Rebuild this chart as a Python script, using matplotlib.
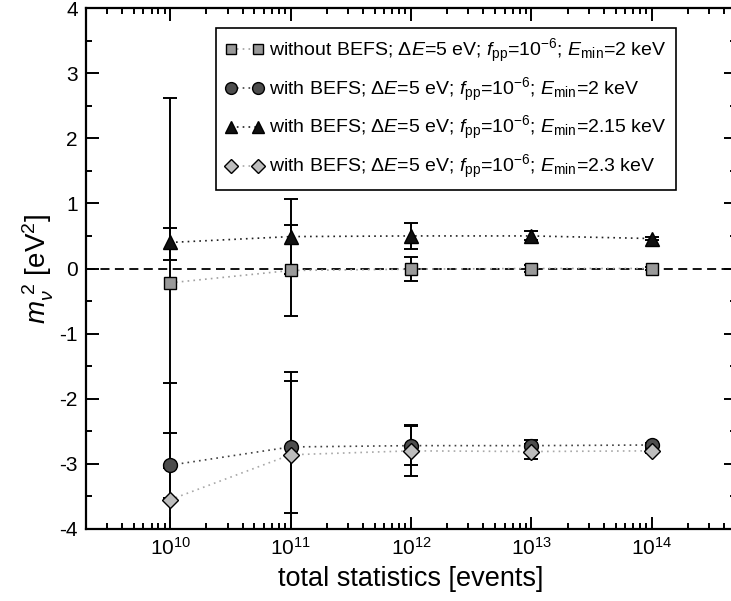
import matplotlib
matplotlib.use("Agg")
import matplotlib.pyplot as plt
from matplotlib.ticker import LogLocator, MultipleLocator, NullFormatter, LogFormatterMathtext

plt.rcParams['font.family'] = ['Liberation Sans', 'DejaVu Sans']
plt.rcParams['mathtext.fontset'] = 'custom'
plt.rcParams['mathtext.rm'] = 'Liberation Sans'
plt.rcParams['mathtext.it'] = 'Liberation Sans:italic'
plt.rcParams['mathtext.sf'] = 'Liberation Sans'
plt.rcParams['axes.unicode_minus'] = False

# data
events = [1e10, 1e11, 1e12, 1e13, 1e14]

sq_val = [-0.22, -0.03, -0.01, 0.0, 0.0]
sq_err = [2.84, 0.70, 0.18, 0.05, 0.03]

circ_val = [-3.02, -2.74, -2.72, -2.72, -2.71]
circ_err = [0.50, 1.01, 0.30, 0.09, 0.03]

tri_val = [0.40, 0.49, 0.50, 0.50, 0.46]
tri_lo = [0.27, 0.58, 0.20, 0.07, 0.03]
tri_hi = [0.22, 0.58, 0.20, 0.07, 0.03]

dia_val = [-3.55, -2.86, -2.80, -2.81, -2.80]
dia_err = [1.79, 1.27, 0.39, 0.12, 0.03]

labels = [
    r"without BEFS; $\Delta E$=5 eV; $f_{\rm pp}$=10$^{-6}$; $E_{\rm min}$=2 keV",
    r"with BEFS; $\Delta E$=5 eV; $f_{\rm pp}$=10$^{-6}$; $E_{\rm min}$=2 keV",
    r"with BEFS; $\Delta E$=5 eV; $f_{\rm pp}$=10$^{-6}$; $E_{\rm min}$=2.15 keV",
    r"with BEFS; $\Delta E$=5 eV; $f_{\rm pp}$=10$^{-6}$; $E_{\rm min}$=2.3 keV",
]

fig = plt.figure(figsize=(7.31, 6.01), dpi=100)
ax = fig.add_axes([86 / 731, 72 / 601, 650 / 731, 521 / 601])

ax.axhline(0, color='black', lw=1.3, ls=(0, (5, 3)), zorder=1)

eb = dict(ecolor='black', elinewidth=1.4, capsize=5, capthick=1.4, zorder=3)

series = [
    (sq_val, sq_err, 's', '#999999', '#a0a0a0', 9),
    (circ_val, circ_err, 'o', '#4d4d4d', '#404040', 10),
    (tri_val, [tri_lo, tri_hi], '^', '#111111', '#202020', 10),
    (dia_val, dia_err, 'D', '#bdbdbd', '#a8a8a8', 8.5),
]
handles = []
for (vals, err, mk, fc, lc, ms), lab in zip(series, labels):
    ax.errorbar(events, vals, yerr=err, fmt='none', **eb)
    h, = ax.plot(events, vals, ls=(0, (1, 2.5)), color=lc, lw=1.2,
                 marker=mk, ms=ms, mfc=fc, mec='black', mew=1.0, zorder=4,
                 label=lab)
    handles.append(h)

ax.set_xscale('log')
ax.set_xlim(2e9, 5e14)
ax.set_ylim(-4, 4)

ax.xaxis.set_major_locator(LogLocator(base=10, numticks=20))
ax.xaxis.set_minor_locator(LogLocator(base=10, subs=range(2, 10), numticks=50))
ax.xaxis.set_major_formatter(LogFormatterMathtext())
ax.xaxis.set_minor_formatter(NullFormatter())
ax.yaxis.set_major_locator(MultipleLocator(1))
ax.yaxis.set_minor_locator(MultipleLocator(0.5))

ax.tick_params(which='both', direction='in', top=True, right=True, width=1.4)
ax.tick_params(which='major', length=9, labelsize=15, pad=6)
ax.tick_params(which='minor', length=4.5)
for s in ax.spines.values():
    s.set_linewidth(1.6)
ax.spines['right'].set_visible(False)  # cut off at the image edge

ax.set_xlabel('total statistics [events]', fontsize=19.5, labelpad=5)
ax.set_ylabel(r'$m_{\nu}^{\ 2}$ [eV$^2$]', fontsize=20, labelpad=2)

leg = ax.legend(handles=handles, loc='upper left', bbox_to_anchor=(130 / 650, 1 - 20 / 521),
                fontsize=14, numpoints=2, handlelength=2.0, handletextpad=0.3,
                labelspacing=0.55, borderpad=0.45, fancybox=False, framealpha=1,
                edgecolor='black', borderaxespad=0, markerscale=0.85)
leg.get_frame().set_linewidth(1.2)

fig.savefig('out.png', dpi=100)
